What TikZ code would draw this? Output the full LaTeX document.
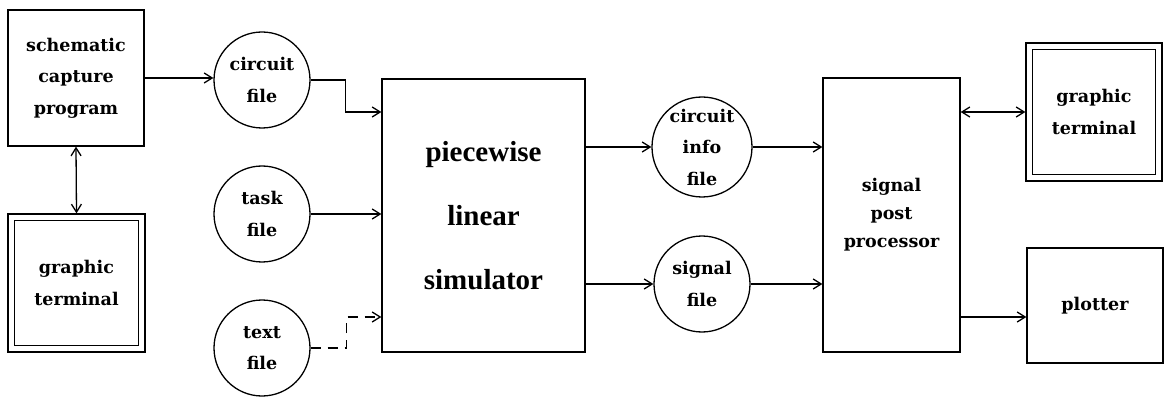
\documentclass[tikz,border=0pt]{standalone}
\usepackage{fontspec}
\usetikzlibrary{arrows.meta,calc}
\newfontfamily\simfont{Liberation Serif}
\newfontfamily\labelfont{DejaVu Serif}
\tikzset{
  every node/.style={font=\labelfont\fontsize{17.5}{31.5}\selectfont\bfseries, align=center, inner sep=0pt},
  box/.style={draw, rectangle, line width=1.3pt},
  filecirc/.style={draw, circle, line width=1.3pt, minimum size=96pt},
  dblbox/.style={box, append after command={
      \pgfextra{\draw[line width=1.3pt] ($(\tikzlastnode.north west)+(7pt,-7pt)$) rectangle ($(\tikzlastnode.south east)+(-7pt,7pt)$);}}},
  link/.style={line width=1.3pt, -{Straight Barb[length=8pt,width=10pt,line width=1.3pt]}},
  duplex/.style={line width=1.3pt, {Straight Barb[length=8pt,width=10pt,line width=1.3pt]}-{Straight Barb[length=8pt,width=10pt,line width=1.3pt]}},
  dashlink/.style={link, dash pattern=on 10pt off 7pt}
}
\begin{document}
\begin{tikzpicture}[x=1pt, y=-1pt]
\useasboundingbox (0,0) rectangle (1167,398);

% editor and its terminal
\node[box, minimum width=136pt, minimum height=136pt] (sch) at (76,78) {schematic\\capture\\program};
\node[dblbox, minimum width=137pt, minimum height=138pt] (gt1) at (76.5,283) {graphic\\terminal};

% input files
\node[filecirc] (cfile) at (262,80) {circuit\\file};
\node[filecirc] (task) at (262,214) {task\\file};
\node[filecirc] (text) at (262,348) {text\\file};

% simulator
\node[box, minimum width=203pt, minimum height=273pt,
      font=\simfont\fontsize{29}{64}\selectfont\bfseries] (sim) at (483.5,215.5) {piecewise\\linear\\simulator};

% output files
\node[filecirc, minimum size=100pt] (cinfo) at (702,147) {circuit\\info\\file};
\node[filecirc] (sig) at (702,284) {signal\\file};

% post processing
\node[box, minimum width=137pt, minimum height=274pt, font=\labelfont\fontsize{17.5}{28}\selectfont\bfseries] (spp) at (891.5,215) {signal\\post\\processor};
\node[dblbox, minimum width=136pt, minimum height=138pt] (gt2) at (1094,112) {graphic\\terminal};
\node[box, minimum width=136pt, minimum height=115pt] (plot) at (1095,305.5) {plotter};

% connector bend points
\coordinate (cbend) at ($(cfile.east)+(35,0)$);
\coordinate (cin) at (sim.west |- 0,112);
\coordinate (tbend) at ($(text.east)+(36,0)$);
\coordinate (tin) at (sim.west |- 0,317);
\coordinate (pout) at (spp.east |- 0,317);

% connectors
\draw[link] (sch.east |- 0,78) -- (cfile.west |- 0,78);
\draw[duplex] (sch.south) -- (gt1.north);
\draw[link] (cfile.east) -- (cbend) |- (cin);
\draw[link] (task.east) -- (task.east -| sim.west);
\draw[dashlink] (text.east) -- (tbend) |- (tin);
\draw[link] (sim.east |- cinfo.west) -- (cinfo.west);
\draw[link] (sim.east |- sig.west) -- (sig.west);
\draw[link] (cinfo.east) -- (cinfo.east -| spp.west);
\draw[link] (sig.east) -- (sig.east -| spp.west);
\draw[duplex] (spp.east |- gt2.west) -- (gt2.west);
\draw[link] (pout) -- (plot.west |- pout);
\end{tikzpicture}
\end{document}
